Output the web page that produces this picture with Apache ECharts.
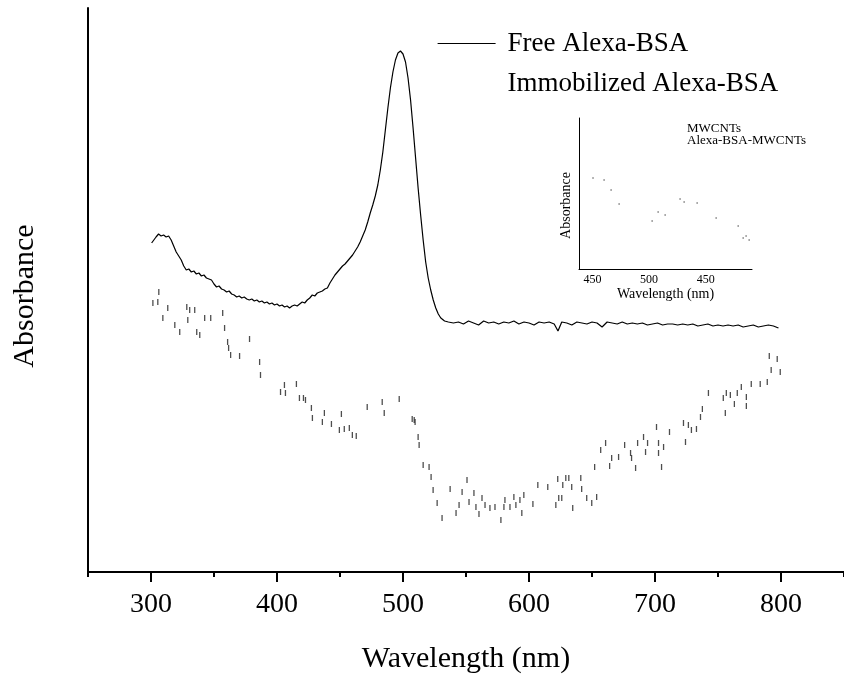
<!DOCTYPE html>
<html><head><meta charset="utf-8">
<script src="https://cdn.jsdelivr.net/npm/echarts@6/dist/echarts.min.js"></script>
<style>html,body{margin:0;padding:0;background:#fff}#c{width:844px;height:675px}</style>
</head><body><div id="c"></div>
<script>
const seriesNames = ['Free Alexa-BSA', 'Immobilized Alexa-BSA'];
const insetNames = ['MWCNTs', 'Alexa-BSA-MWCNTs'];
const mainTickValues = [300, 400, 500, 600, 700, 800];
const insetTickValues = [450, 500, 550];
const insetTickLabels = ['450', '500', '450'];

const freeWavelength = [300.5,302,304,306,308,310,312,314,316,318,320,322,324,326,328,330,332,334,336,338,340,342,344,346,348,350,352,354,356,358,360,362,364,366,368,370,372,374,376,378,380,382,384,386,388,390,392,394,396,398,400,402,404,406,408,410,412,414,416,418,420,422,424,426,428,430,432,434,436,438,440,442,444,446,448,450,452,454,456,458,460,462,464,466,468,470,472,474,476,478,480,482,484,486,488,490,492,494,496,498,500,502,504,506,508,510,512,514,516,518,520,522,524,526,528,530,533,536,540,544,548,552,556,560,564,568,572,576,580,584,588,592,596,600,604,608,612,616,620,623,626,630,634,638,642,646,650,654,658,662,666,670,674,678,682,686,690,694,698,702,706,710,714,718,722,726,730,734,738,742,746,750,754,758,762,766,770,774,778,782,786,790,794,798];
const freeAbsorbance = [329,331,335,338,336,337,335,336,332,326,320,316,312,306,302,303,300,301,298,299,296,297,294,293,292,288,285,286,283,282,280,281,278,277,275,276,274,275,273,272,273,271,272,270,271,269,270,268,269,267,268,266,267,265,266,264,266,267,266,268,270,269,272,274,277,276,279,280,281,283,284,289,293,297,300,303,306,308,311,314,317,321,325,330,336,342,350,359,367,376,387,402,420,442,464,484,500,512,519,521,518,510,494,472,444,414,384,357,332,310,294,282,272,264,258,254,251,250,249,250,248,251,249,247,251,249,250,248,250,249,251,248,250,249,247,250,249,250,248,241,250,249,247,250,249,248,250,249,245,250,249,248,250,248,249,248,249,247,248,249,247,248,248,247,248,247,248,246,247,248,246,247,246,247,246,247,245,246,247,245,246,247,246,244];

const immWavelength = [301.5,305.4,306.2,309.4,313.3,318.9,322.8,328.4,329.2,330.7,334.7,336.3,338.7,342.6,347.4,356.9,358.4,360.8,361.6,363.2,370.3,378.2,386.2,386.9,402.8,405.9,406.7,415.4,417.8,421,422.6,427.3,428.1,436,437.6,443.2,449.5,451.1,453.4,457.4,459.8,462.9,471.6,483.5,485.1,497,507.3,508.9,509.6,512,512.8,516,520.7,522.3,523.9,527.1,531,537.4,542.1,544.5,546.9,550.8,552.4,556.3,557.9,560.3,562.7,565.1,569,573,577.7,580.1,580.9,584.9,588,589.6,592.8,594.3,595.9,603.1,607,614.9,621.3,622.8,623.6,626,626.8,629.2,631.6,633.9,634.7,641.1,641.8,645.8,649.8,652.1,653.7,656.9,660.8,664,665.6,671.1,675.9,680.6,681.4,684.6,686.2,690.9,692.5,694.1,701.2,702.8,702.8,705.2,706.8,711.5,722.6,724.2,726.5,728.9,732.9,736.1,737.6,742.4,754.2,755.8,756.6,759.8,763,765.3,768.5,772.5,772.5,776.4,783.5,789.1,790.7,792.2,797,799.4];
const immAbsorbance = [269,270,280,254,264,247,240,265,252,262,262,240,237,254,254,259,244,230,224,217,216,233,210,197,180,187,179,188,174,174,172,164,154,150,159,148,142,158,143,144,137,136,165,170,159,173,153,152,150,135,127,107,105,95,82,69,54,83,59,67,80,92,70,79,65,58,74,67,64,65,52,65,72,65,75,67,72,59,77,68,87,85,67,93,74,74,87,94,94,85,64,94,83,74,69,105,75,122,129,106,114,115,127,119,114,104,129,135,120,129,145,129,119,105,125,140,149,130,147,142,143,155,163,179,174,159,179,177,168,179,185,175,166,188,188,190,216,202,213,200];

const insetWavelength = [450.4,460.2,466.4,473.5,502.7,508,514.2,527.4,531,542.5,559.3,578.8,583.2,585.8,588.5];
const insetAbsorbance = [60.3,58.9,52.3,43.0,31.8,37.7,35.8,46.4,44.4,43.7,33.8,28.5,20.5,21.9,19.2];

const zip = (a, b) => a.map((v, i) => [v, b[i]]);
const FONT = '"Liberation Serif", "Times New Roman", serif';

const chart = echarts.init(document.getElementById('c'));
chart.setOption({
  animation: false,
  backgroundColor: '#fff',
  textStyle: { fontFamily: FONT, color: '#000' },
  grid: [
    { left: 88, right: 0, top: 8, bottom: 103, outerBoundsMode: 'none', containLabel: false },
    { left: 579, top: 118, width: 173, height: 151, outerBoundsMode: 'none', containLabel: false }
  ],
  legend: {
    orient: 'vertical', left: 432, top: 25, itemGap: 13,
    itemWidth: 58, itemHeight: 14,
    textStyle: { fontFamily: FONT, fontSize: 27, color: '#000', padding: [0, 0, 0, 7] },
    data: [
      { name: seriesNames[0], itemStyle: { opacity: 0 }, lineStyle: { color: '#000', width: 1.2 } },
      { name: seriesNames[1], itemStyle: { opacity: 0 } }
    ]
  },
  xAxis: [
    {
      gridIndex: 0, type: 'value', min: 250, max: 850,
      name: 'Wavelength (nm)', nameLocation: 'middle', nameGap: 72,
      nameTextStyle: { fontFamily: FONT, fontSize: 30, color: '#000' },
      axisLine: { onZero: false, lineStyle: { color: '#000', width: 2 } },
      axisTick: { customValues: mainTickValues, length: 10, lineStyle: { color: '#000', width: 2 } },
      axisLabel: { customValues: mainTickValues, fontFamily: FONT, fontSize: 28, color: '#000', margin: 19 },
      splitLine: { show: false }
    },
    {
      gridIndex: 0, type: 'value', min: 250, max: 850, interval: 50, position: 'bottom',
      axisLine: { show: false },
      axisTick: { length: 5, lineStyle: { color: '#000', width: 2 } },
      axisLabel: { show: false }, splitLine: { show: false }
    },
    {
      gridIndex: 1, type: 'value', min: 438, max: 591,
      name: 'Wavelength (nm)', nameLocation: 'middle', nameGap: 17,
      nameTextStyle: { fontFamily: FONT, fontSize: 14, color: '#000' },
      axisLine: { onZero: false, lineStyle: { color: '#000', width: 1 } },
      axisTick: { show: false },
      axisLabel: {
        customValues: insetTickValues, fontFamily: FONT, fontSize: 12, color: '#000', margin: 5,
        formatter: v => insetTickLabels[insetTickValues.indexOf(v)]
      },
      splitLine: { show: false }
    }
  ],
  yAxis: [
    {
      gridIndex: 0, type: 'value', min: 0, max: 564,
      name: 'Absorbance', nameLocation: 'middle', nameGap: 48,
      nameTextStyle: { fontFamily: FONT, fontSize: 30, color: '#000', padding: [0, 12, 0, 0] },
      axisLine: { show: true, onZero: false, lineStyle: { color: '#000', width: 2 } },
      axisTick: { show: false }, axisLabel: { show: false }, splitLine: { show: false }
    },
    {
      gridIndex: 1, type: 'value', min: 0, max: 100,
      name: 'Absorbance', nameLocation: 'middle', nameGap: 6,
      nameTextStyle: { fontFamily: FONT, fontSize: 14, color: '#000', padding: [0, 24, 0, 0] },
      axisLine: { show: true, onZero: false, lineStyle: { color: '#000', width: 1 } },
      axisTick: { show: false }, axisLabel: { show: false }, splitLine: { show: false }
    }
  ],
  graphic: [
    {
      type: 'text', left: 687, top: 122,
      style: { text: insetNames.join('\n'), font: '13px "Liberation Serif"', lineHeight: 12, fill: '#000' }
    }
  ],
  series: [
    {
      name: seriesNames[0], type: 'line', xAxisIndex: 0, yAxisIndex: 0,
      data: zip(freeWavelength, freeAbsorbance),
      showSymbol: false, symbol: 'none',
      lineStyle: { color: '#000', width: 1.2 }, itemStyle: { color: '#000' }
    },
    {
      name: seriesNames[1], type: 'scatter', xAxisIndex: 0, yAxisIndex: 0,
      data: zip(immWavelength, immAbsorbance),
      symbol: 'rect', symbolSize: [1.3, 6],
      itemStyle: { color: '#222' }
    },
    {
      name: insetNames[1], type: 'scatter', xAxisIndex: 2, yAxisIndex: 1,
      data: zip(insetWavelength, insetAbsorbance),
      symbol: 'rect', symbolSize: [1.5, 2],
      itemStyle: { color: '#888' }
    }
  ]
});
</script>
</body></html>
